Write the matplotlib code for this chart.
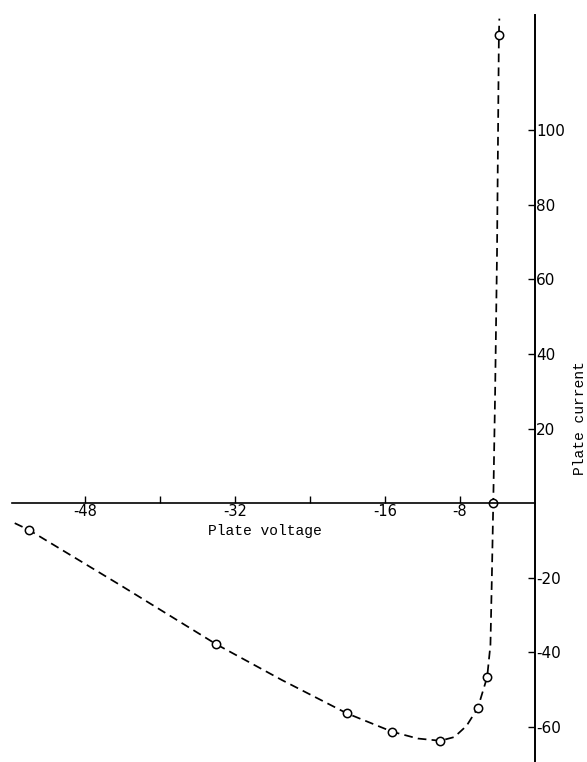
import matplotlib
matplotlib.use("Agg")
import matplotlib.pyplot as plt

# measured points (plate voltage, plate current)
volts = [-54.0, -34.0, -20.1, -15.2, -10.1, -6.1, -5.1, -4.5, -3.85]
current = [-7.2, -37.9, -56.4, -61.4, -63.8, -55.0, -46.7, 0.0, 125.6]

# trace of the hand-drawn dashed curve
curve_v = [-55.5, -54.0, -44.0, -34.0, -27.0, -20.1, -15.2, -12.5, -10.1, -8.6,
           -7.3, -6.1, -5.1, -4.75, -4.6, -4.45, -4.25, -4.05, -3.85, -3.8]
curve_i = [-5.4, -7.2, -22.4, -37.9, -47.5, -56.4, -61.4, -63.2, -63.8, -62.8,
           -59.8, -55.0, -46.7, -38.0, -20.0, 0.0, 30.0, 67.0, 125.6, 130.0]

x_ticks = [-48, -40, -32, -24, -16, -8]
x_labels = ['-48', '', '-32', '', '-16', '-8']
y_ticks = [-60, -40, -20, 20, 40, 60, 80, 100]
y_labels = ['-60', '-40', '-20', '20', '40', '60', '80', '100']

font = 'Liberation Mono'

fig = plt.figure(figsize=(5.87, 7.62), dpi=100)
ax = fig.add_axes([0, 0, 1, 1])

ax.plot(curve_v, curve_i, color='black', lw=1.25, dashes=(5.0, 3.0))
ax.plot(volts, current, 'o', ms=6, mfc='white', mec='black', mew=1.1, ls='none')

ax.set_xlim(-57.07, 5.55)
ax.set_ylim(-69.5, 135.0)

# axes crossing at the origin
ax.spines['top'].set_visible(False)
ax.spines['left'].set_visible(False)
ax.spines['bottom'].set_position(('data', 0))
ax.spines['right'].set_position(('data', 0))
ax.spines['bottom'].set_bounds(-55.8, 0)
ax.spines['right'].set_bounds(-70, 131)
ax.spines['bottom'].set_linewidth(1.2)
ax.spines['right'].set_linewidth(1.4)

ax.yaxis.tick_right()
ax.set_xticks(x_ticks)
ax.set_xticklabels(x_labels)
ax.set_yticks(y_ticks)
ax.set_yticklabels(y_labels)
ax.tick_params(axis='x', direction='in', length=5, width=1, pad=1,
               labelsize=10.5, labelcolor='black')
ax.tick_params(axis='y', direction='in', length=5, width=1, pad=1,
               labelsize=11, labelcolor='black')
for lab in ax.get_xticklabels() + ax.get_yticklabels():
    lab.set_fontfamily('DejaVu Sans')

ax.text(-28.8, -7.6, 'Plate voltage', fontsize=10.5, family=font,
        ha='center', va='center')
ax.text(4.8, 22.8, 'Plate current', fontsize=10.5, family=font,
        rotation=90, ha='center', va='center')

fig.savefig('out.png', dpi=100)
